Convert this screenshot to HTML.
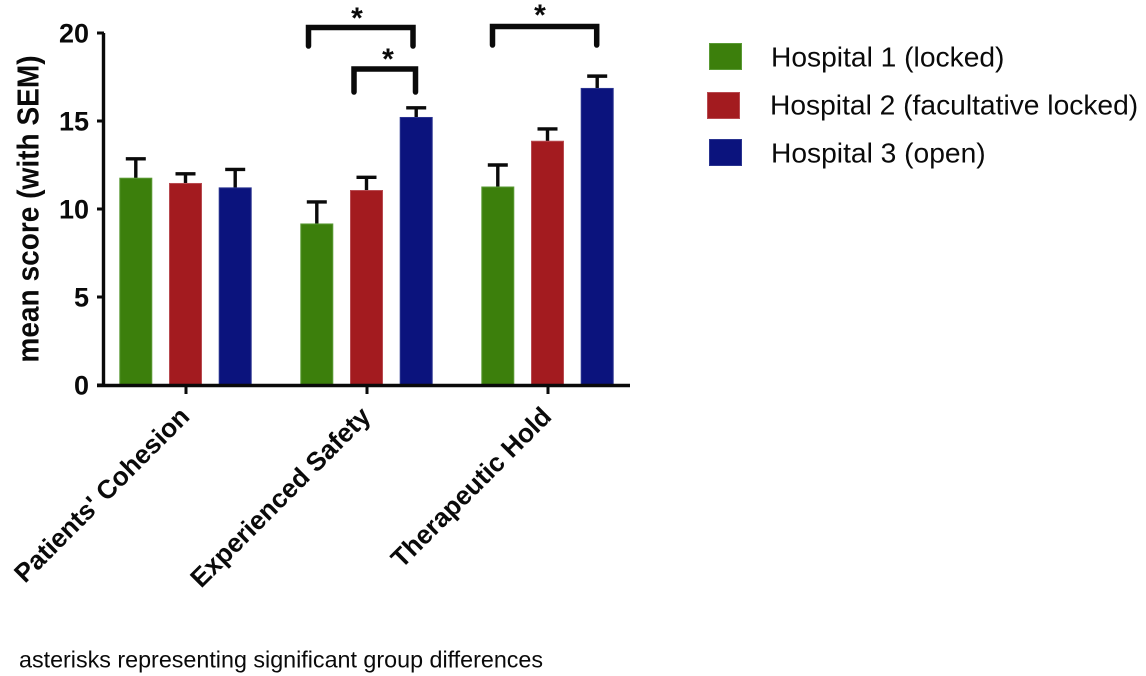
<!DOCTYPE html>
<html lang="en">
<head>
<meta charset="utf-8">
<title>Mean score by hospital</title>
<style>
html,body{margin:0;padding:0;background:#fff;width:1146px;height:676px;overflow:hidden}
svg{display:block}
text{font-family:"Liberation Sans",Arial,sans-serif;fill:#0a0a0a}
</style>
</head>
<body>
<svg id="chart" xmlns="http://www.w3.org/2000/svg" width="1146" height="676" viewBox="0 0 1146 676"></svg>
<script>
const categories = ["Patients' Cohesion", "Experienced Safety", "Therapeutic Hold"];
const seriesNames = ["Hospital 1 (locked)", "Hospital 2 (facultative locked)", "Hospital 3 (open)"];
const hospital1Means = [11.75, 9.15, 11.25];
const hospital2Means = [11.45, 11.05, 13.85];
const hospital3Means = [11.2, 15.2, 16.85];
const hospital1Sem = [1.1, 1.25, 1.25];
const hospital2Sem = [0.55, 0.75, 0.7];
const hospital3Sem = [1.05, 0.55, 0.7];
const yTicks = [0, 5, 10, 15, 20];

const svg = document.getElementById('chart');
const NS = 'http://www.w3.org/2000/svg';
function add(tag, attrs, parent, txt) {
  const el = document.createElementNS(NS, tag);
  for (const k in attrs) el.setAttribute(k, attrs[k]);
  if (txt !== undefined) el.textContent = txt;
  (parent || svg).appendChild(el);
  return el;
}
const colors = ['#3c7f0c', '#a31b1f', '#0b137d'];
const edges = ['#5a9a35', '#b84a50', '#2a3490'];
const means = [hospital1Means, hospital2Means, hospital3Means];
const sems = [hospital1Sem, hospital2Sem, hospital3Sem];

function y(v) { return 385 - v * 17.6; }
function groupX(g) { return 186 + g * 181; }
function barX(g, s) { return groupX(g) - 0.5 + (s - 1) * 49.7; }
const barW = 33;

for (let s = 0; s < 3; s++) {
  for (let g = 0; g < categories.length; g++) {
    const cx = barX(g, s);
    const top = y(means[s][g]);
    const errTop = y(means[s][g] + sems[s][g]);
    const err = add('path', {
      d: 'M' + cx + ' ' + top + 'V' + errTop + 'M' + (cx - 10) + ' ' + errTop + 'H' + (cx + 10),
      stroke: '#0a0a0a', 'stroke-width': 3.4, fill: 'none'
    });
    
    
    const bar = add('rect', {
      x: cx - barW / 2 + 0.5, y: top, width: barW - 1, height: y(0) - top,
      fill: colors[s], stroke: edges[s], 'stroke-width': 1
    });
    
    
  }
}

const yAxis = add('path', { d: 'M103.5 ' + y(20) + 'V' + (y(0) + 1.5), stroke: '#0a0a0a', 'stroke-width': 3.4, fill: 'none' });


const xAxis = add('path', { d: 'M97 385.5H630', stroke: '#0a0a0a', 'stroke-width': 3.4, fill: 'none' });



yTicks.forEach(function (t) {
  const tick = add('path', { d: 'M97 ' + y(t) + 'H104', stroke: '#0a0a0a', 'stroke-width': 3 });
  
  
  const lab = add('text', {
    x: 89, y: y(t) + 9.5, 'text-anchor': 'end', 'font-size': 27, 'font-weight': 700
  }, svg, String(t));
  
  
});

categories.forEach(function (c, g) {
  const x = groupX(g);
  const tick = add('path', { d: 'M' + x + ' 386V394', stroke: '#0a0a0a', 'stroke-width': 3 });
  
  
  const lab = add('text', {
    x: x + 5, y: 418, 'text-anchor': 'end', 'font-size': 26.2, 'font-weight': 700,
    transform: 'rotate(-45 ' + (x + 5) + ' 418)'
  }, svg, c);
  
  
});

const yTitle = add('text', {
  x: 0, y: 0, 'text-anchor': 'middle', 'font-size': 31, 'font-weight': 700,
  transform: 'translate(38.5 209) rotate(-90) scale(0.906 1)'
}, svg, 'mean score (with SEM)');



const bracket1 = add('path', { d: 'M308.5 46V27.5H413V46', stroke: '#0a0a0a', 'stroke-width': 5.5, fill: 'none', 'stroke-linecap': 'round' });


const bracket2 = add('path', { d: 'M354 92V69H415.5V92', stroke: '#0a0a0a', 'stroke-width': 5.5, fill: 'none', 'stroke-linecap': 'round' });


const bracket3 = add('path', { d: 'M492.5 45V26.5H596.7V45', stroke: '#0a0a0a', 'stroke-width': 5.5, fill: 'none', 'stroke-linecap': 'round' });



const star1 = add('text', { x: 357, y: 28, 'text-anchor': 'middle', 'font-size': 30, 'font-weight': 700 }, svg, '*');


const star2 = add('text', { x: 388, y: 69, 'text-anchor': 'middle', 'font-size': 30, 'font-weight': 700 }, svg, '*');


const star3 = add('text', { x: 540, y: 25, 'text-anchor': 'middle', 'font-size': 30, 'font-weight': 700 }, svg, '*');



const legendRows = [[709, 43, 771, 66.5], [707, 92, 770, 114.5], [709, 139, 771, 162.5]];
seriesNames.forEach(function (n, i) {
  const r = legendRows[i];
  const sw = add('rect', { x: r[0] + 0.5, y: r[1] + 0.5, width: 32, height: 26, fill: colors[i], stroke: edges[i], 'stroke-width': 1 });
  
  
  const t = add('text', { x: r[2], y: r[3], 'font-size': 28.2 }, svg, n);
  
  
});

const note = add('text', { x: 19, y: 667.5, 'font-size': 23.3 }, svg, 'asterisks representing significant group differences');


</script>
</body>
</html>
